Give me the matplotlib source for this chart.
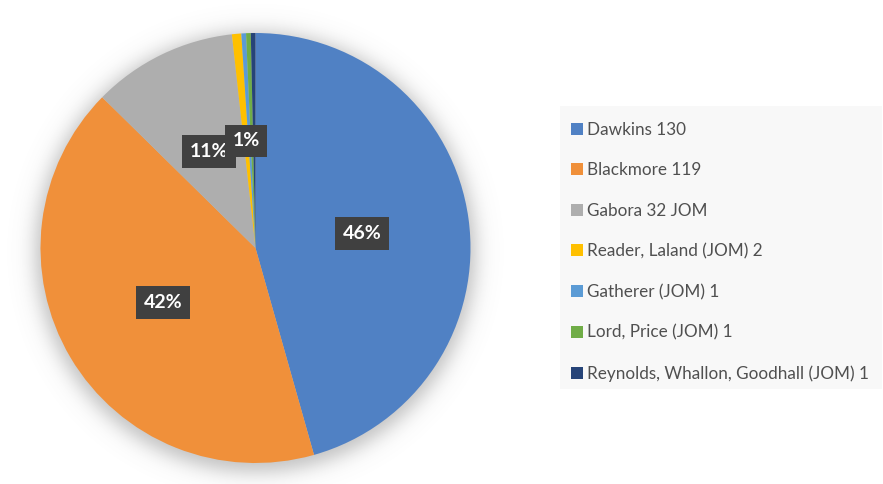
import numpy as np
import matplotlib
matplotlib.use("Agg")
import matplotlib.pyplot as plt
from matplotlib.patches import Rectangle

plt.rcParams['font.family'] = ['Lato', 'DejaVu Sans']

# citation counts per author group
names = ['Dawkins 130', 'Blackmore 119', 'Gabora 32 JOM', 'Reader, Laland (JOM) 2',
         'Gatherer (JOM) 1', 'Lord, Price (JOM) 1', 'Reynolds, Whallon, Goodhall (JOM) 1']
counts = [130, 119, 31, 2, 1, 1, 1]
colors = ['#5081C4', '#F0903A', '#AEAEAE', '#FFC000', '#5B9BD5', '#70AD47', '#264478']

W, H = 883, 484
fig = plt.figure(figsize=(W / 100, H / 100), dpi=100)
ax = fig.add_axes([0, 0, 1, 1])

cx, cy, R = 255.5, H - 248, 215

# soft drop shadow under the pie
yy, xx = np.mgrid[0:H, 0:W]
d = np.hypot(xx + 0.5 - cx, (H - yy - 0.5) - (cy - 4))
alpha = 0.45 * 0.5 * (1 - np.tanh((d - R - 5) / 12.0))
shadow = np.zeros((H, W, 4))
shadow[..., :3] = 0.45
shadow[..., 3] = alpha
ax.imshow(shadow, extent=(0, W, 0, H), origin='upper', zorder=0, interpolation='bilinear')


def fmt(p):
    return '%.0f%%' % p if p >= 0.5 else ''


wedges, _, autotexts = ax.pie(counts, colors=colors, startangle=90, counterclock=False,
                              center=(cx, cy), radius=R, autopct=fmt, pctdistance=0.5,
                              wedgeprops=dict(linewidth=0), frame=True,
                              textprops=dict(color='white', fontsize=14, fontweight='bold'))
ax.set_xlim(0, W)
ax.set_ylim(0, H)
ax.set_aspect('equal')
ax.axis('off')
for t in autotexts:
    if t.get_text():
        t.set_bbox(dict(boxstyle='square,pad=0.4', facecolor='#404040', edgecolor='none'))
        t.set_zorder(5)

# legend panel
ax.add_patch(Rectangle((560, H - 389), 322, 283, facecolor='#F8F8F8', edgecolor='none', zorder=1))
leg = ax.legend(wedges, names, loc='upper left', bbox_to_anchor=(571, H - 122),
                bbox_transform=ax.transData, frameon=False, fontsize=12.3,
                handlelength=0.7, handleheight=0.7, handletextpad=0.25,
                labelspacing=1.43, borderpad=0, borderaxespad=0)
for t in leg.get_texts():
    t.set_color('#505050')

fig.savefig('out.png', dpi=100)
